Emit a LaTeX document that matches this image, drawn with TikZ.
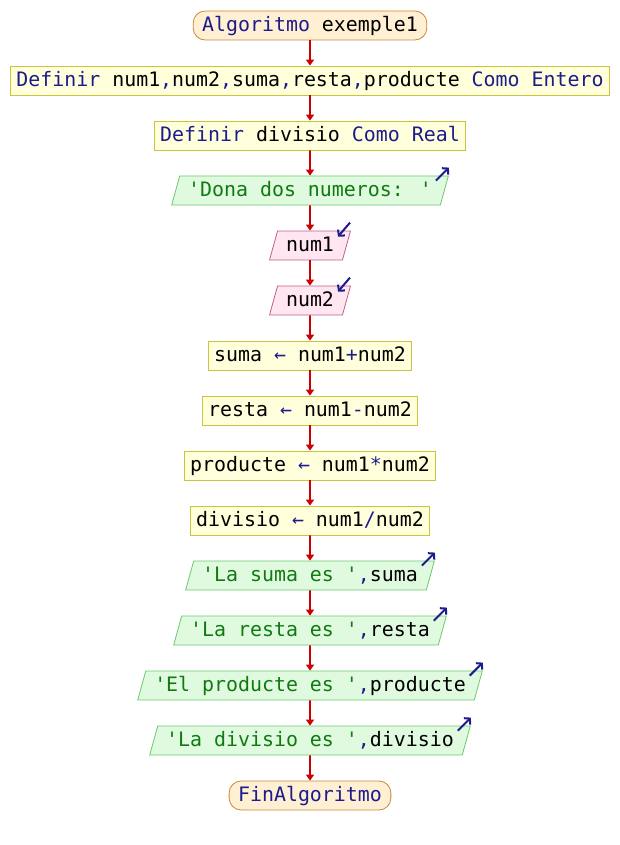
\documentclass[tikz,border=0pt]{standalone}
\usepackage{fontspec}
\newfontfamily\psfont{DejaVu Sans Mono}
\usetikzlibrary{arrows.meta,shapes.geometric}
\definecolor{kw}{HTML}{1C1C8C}
\definecolor{strg}{HTML}{107A10}
\definecolor{termfill}{HTML}{FFF0D4}
\definecolor{termdraw}{HTML}{C8883A}
\definecolor{procfill}{HTML}{FFFFDC}
\definecolor{procdraw}{HTML}{C8C440}
\definecolor{outfill}{HTML}{E0FAE0}
\definecolor{outdraw}{HTML}{6CC86C}
\definecolor{infill}{HTML}{FFE6F0}
\definecolor{indraw}{HTML}{C0608C}
\definecolor{flow}{HTML}{CC0000}
\newcommand{\kwd}[1]{\textcolor{kw}{#1}}
\newcommand{\cad}[1]{\textcolor{strg}{#1}}

\begin{document}
\begin{tikzpicture}[x=1pt,y=-1pt,
  every node/.style={font=\psfont\fontsize{19.9}{24}\selectfont, text height=15pt, text depth=3pt,
    minimum height=29pt, inner ysep=0pt, line width=0.8pt},
  terminal/.style={draw=termdraw, fill=termfill, rounded corners=12pt, inner xsep=9pt, text=kw},
  proceso/.style={draw=procdraw, fill=procfill, inner xsep=6pt},
  salida/.style={trapezium, trapezium left angle=66, trapezium right angle=114, trapezium stretches=true,
    draw=outdraw, fill=outfill, inner xsep=8.5pt},
  entrada/.style={salida, draw=indraw, fill=infill},
  flujo/.style={draw=flow, line width=1.6pt, -{Triangle[length=6pt,width=8pt]}},
  icono/.style={draw=kw, line width=2pt, -{Straight Barb[length=4pt,width=9pt]}}
]
\useasboundingbox (0,0) rectangle (620,845);

% --- Inicio y definiciones ---
\node[terminal] (ini) at (310,25.5) {Algoritmo \textcolor{black}{exemple1}};
\node[proceso] (def1) at (310,80.5)
  {\kwd{Definir} num1\kwd{,}num2\kwd{,}suma\kwd{,}resta\kwd{,}producte \kwd{Como Entero}};
\node[proceso] (def2) at (310,135.5) {\kwd{Definir} divisio \kwd{Como Real}};

% --- Lectura ---
\node[salida] (o0) at (310,190.5) {\cad{'Dona dos numeros: '}};
\node[entrada] (e1) at (310,245.5) {num1};
\node[entrada] (e2) at (310,300.5) {num2};

% --- Calculos ---
\node[proceso] (p1) at (310,355.5) {suma \kwd{←} num1\kwd{+}num2};
\node[proceso] (p2) at (310,410.5) {resta \kwd{←} num1\kwd{-}num2};
\node[proceso] (p3) at (310,465.5) {producte \kwd{←} num1\kwd{*}num2};
\node[proceso] (p4) at (310,520.5) {divisio \kwd{←} num1\kwd{/}num2};

% --- Escritura ---
\node[salida] (o1) at (310,575.5) {\cad{'La suma es '}\kwd{,}suma};
\node[salida] (o2) at (310,630.5) {\cad{'La resta es '}\kwd{,}resta};
\node[salida] (o3) at (310,685.5) {\cad{'El producte es '}\kwd{,}producte};
\node[salida] (o4) at (310,740.5) {\cad{'La divisio es '}\kwd{,}divisio};
\node[terminal] (fin) at (310,795.5) {FinAlgoritmo};

% flechas de flujo
\foreach \a/\b in {ini/def1,def1/def2,def2/o0,o0/e1,e1/e2,e2/p1,p1/p2,p2/p3,p3/p4,p4/o1,o1/o2,o2/o3,o3/o4,o4/fin}
  \draw[flujo] (\a.south) -- (\b.north);

% iconos de entrada / salida
\foreach \n in {o0,o1,o2,o3,o4}
  \draw[icono] ([shift={(-13,5)}]\n.top right corner) -- ++(13,-13);
\foreach \n in {e1,e2}
  \draw[icono] ([shift={(-1,-8)}]\n.top right corner) -- ++(-12,14);
\end{tikzpicture}
\end{document}
